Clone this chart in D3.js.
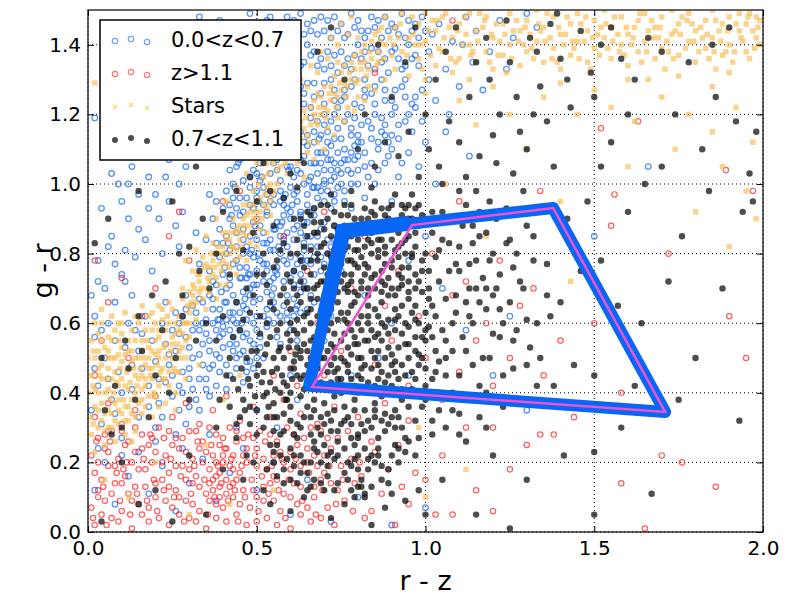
<!DOCTYPE html>
<html>
<head>
<meta charset="utf-8">
<script src="https://cdn.jsdelivr.net/npm/d3@7"></script>
<style>
  html, body { margin: 0; padding: 0; background: #fff; overflow: hidden; }
  svg { display: block; }
  text { font-family: "DejaVu Sans", sans-serif; fill: #000; }
</style>
</head>
<body>
<div id="chart"></div>
<script>
const xTicks = [0.0, 0.5, 1.0, 1.5, 2.0];
const yTicks = [0.0, 0.2, 0.4, 0.6, 0.8, 1.0, 1.2, 1.4];
const seriesNames = ['0.0<z<0.7', 'z>1.1', 'Stars', '0.7<z<1.1'];

// 0.0<z<0.7 (blue open circles)
const lowZ = [
  [.02,.62],[.05,.7],[.03,.78],[.08,.66],[.1,.74],[.07,.85],[.12,.9],[.04,.93],[.15,.97],[.18,1.02],[.09,1.0],[.2,1.08],[.13,1.05],[.22,1.12],[.16,1.15],[.25,1.18],[.19,1.22],[.27,1.0],[.24,.95],[.21,.9],[.17,.84],[.14,.79],[.11,.72],[.06,.6],[.01,.68],[.26,1.25],[.28,1.13],[.23,1.02],[.18,.93],[.15,.87],[.11,.81],[.08,.77],[.03,.72],[.29,1.05],[.26,.88],[.22,.8],[.19,.75],[.13,.68],[.06,.82],[.1,.95],[.16,1.1],[.2,.97],[.24,1.07],[.28,.92],[.3,1.2],[.02,1.19],[.07,1.03],[.12,1.0],[.27,.82],
  [.01,.35],[.03,.42],[.05,.5],[.02,.56],[.07,.38],[.09,.46],[.06,.29],[.11,.53],[.13,.41],[.14,.58],[.16,.47],[.18,.36],[.19,.55],[.21,.44],[.22,.6],[.24,.51],[.25,.39],[.27,.57],[.28,.46],[.3,.53],[.31,.41],[.32,.6],[.34,.48],[.33,.35],[.29,.31],[.26,.28],[.2,.3],[.15,.33],[.1,.27],[.04,.31],[.08,.55],[.12,.6],[.17,.62],[.23,.66],[.26,.63],[.29,.68],[.31,.65],[.35,.57],[.34,.66],[.36,.52],[.02,.47],[.06,.44],[.1,.4],[.15,.52],[.2,.49],[.25,.45],[.3,.47],[.32,.38],[.27,.35],[.22,.33],[.18,.42],[.13,.48],[.08,.34],[.04,.58],[.16,.57],[.23,.54],[.28,.62],[.35,.44],[.37,.6],[.36,.68],
  [.38,.51],[.42,.54],[.44,.5],[.47,.57],[.51,.53],[.53,.59],[.4,.59],[.43,.61],[.46,.52],[.49,.6],[.52,.5],[.56,.56],[.59,.61],[.39,.56],[.45,.58],
  [.37,.64],[.41,.66],[.42,.63],[.46,.69],[.47,.64],[.51,.67],[.52,.62],[.55,.7],[.58,.65],[.61,.62],[.63,.69],[.38,.71],[.44,.66],[.49,.71],[.54,.65],[.58,.72],[.41,.7],[.35,.61],[.65,.64],[.47,.61],
  [.36,.75],[.39,.79],[.42,.73],[.43,.77],[.46,.8],[.48,.74],[.51,.78],[.52,.72],[.56,.76],[.57,.8],[.6,.73],[.62,.77],[.64,.81],[.67,.74],[.45,.73],[.54,.81],[.6,.79],[.37,.72],[.69,.79],[.33,.77],[.42,.81],[.5,.75],
  [.35,.84],[.39,.87],[.4,.83],[.44,.86],[.45,.91],[.48,.85],[.51,.88],[.53,.83],[.55,.87],[.58,.91],[.61,.84],[.62,.88],[.66,.85],[.67,.91],[.71,.84],[.47,.82],[.57,.85],[.42,.9],[.53,.91],[.64,.83],[.73,.88],[.37,.9],[.32,.86],
  [.38,.95],[.41,.98],[.44,.93],[.47,.96],[.49,.93],[.52,.99],[.54,.95],[.57,.98],[.59,.93],[.61,.97],[.64,1.0],[.67,.93],[.69,.98],[.72,.93],[.74,.99],[.48,.99],[.58,.96],[.63,.92],[.53,.97],[.36,.97],[.43,1.0],[.7,1.01],[.76,.95],
  [.42,1.04],[.45,1.07],[.48,1.02],[.51,1.06],[.53,1.1],[.56,1.04],[.58,1.08],[.61,1.02],[.63,1.07],[.65,1.11],[.68,1.03],[.71,1.07],[.73,1.02],[.75,1.06],[.78,1.09],[.4,1.09],[.47,1.11],[.57,1.01],[.62,1.09],[.67,1.06],[.72,1.11],[.8,1.04],
  [.5,1.13],[.53,1.17],[.56,1.12],[.59,1.16],[.62,1.2],[.65,1.14],[.68,1.18],[.71,1.12],[.74,1.16],[.77,1.2],[.8,1.14],[.83,1.18],[.86,1.12],[.88,1.17],[.46,1.15],[.6,1.19],[.7,1.2],[.79,1.11],[.9,1.2],[.44,1.19],
  [.45,1.23],[.48,1.27],[.51,1.22],[.54,1.26],[.57,1.3],[.6,1.24],[.63,1.28],[.66,1.22],[.69,1.26],[.72,1.3],[.75,1.24],[.78,1.28],[.81,1.22],[.84,1.26],[.87,1.3],[.9,1.24],[.93,1.28],[.96,1.23],[.4,1.26],[.42,1.3],[.65,1.29],[.82,1.3],[.99,1.27],
  [.38,1.33],[.41,1.37],[.44,1.32],[.47,1.36],[.5,1.4],[.53,1.34],[.56,1.38],[.59,1.32],[.62,1.36],[.65,1.4],[.68,1.34],[.71,1.38],[.74,1.32],[.77,1.36],[.8,1.4],[.83,1.34],[.86,1.38],[.89,1.32],[.92,1.36],[.95,1.4],[.98,1.34],[1.01,1.38],[.35,1.39],[.55,1.31],
  [.36,1.43],[.39,1.47],[.42,1.42],[.45,1.46],[.48,1.49],[.51,1.44],[.54,1.48],[.57,1.42],[.6,1.46],[.63,1.49],[.66,1.44],[.69,1.48],[.72,1.42],[.75,1.46],[.78,1.49],[.81,1.44],[.84,1.48],[.87,1.42],[.9,1.46],[.93,1.49],[.96,1.44],[.99,1.48],[1.02,1.43],[.33,1.48],[.3,1.45],
  [1.04,1.46],[1.08,1.41],[1.12,1.48],[1.06,1.33],[1.15,1.44],[1.19,1.38],[1.1,1.28],[1.22,1.47],[1.26,1.42],[1.03,1.24],[1.14,1.35],[1.3,1.49],[1.17,1.27],[1.07,1.2],[1.24,1.33],[1.33,1.45],[1.01,1.3],[1.11,1.4],
  [1.0,1.12],[.98,1.05],[1.03,1.0],[.95,1.09],[1.13,1.08],[1.06,1.15],[.92,1.02],[.88,1.06],[.85,1.0],[.82,.96],[.9,.95],[.78,.93],
  [.75,.75],[.82,.68],[.9,.6],[.95,.78],[1.05,.7],[1.12,.58],[.86,.5],[1.2,.45],[.7,.55],[.78,.45],[1.25,.62],[1.3,.35],[1.5,.85],[1.66,1.05],[.95,.45],[1.0,.85],[.72,.62],[.68,.48],[.62,.55],[.6,.45],
  [.02,.12],[.05,.2],[.08,.08],[.12,.16],[.15,.23],[.18,.11],[.22,.19],[.26,.06],[.3,.14],[.34,.21],[.38,.09],[.42,.17],[.46,.24],[.5,.12],[.55,.2],[.6,.05],[.65,.15],[.72,.03],[.8,.1],[.9,.02],[1.0,.07],[.03,.24],[.1,.22],[.2,.26],[.28,.24],[.36,.28],[.44,.3],[.5,.35],[.56,.3],[.62,.38],
  [.27,.42],[.3,.36],[.33,.44],[.36,.39],[.39,.46],[.41,.41],[.44,.47],[.46,.43],[.48,.49],[.31,.5],[.34,.54],[.37,.48],[.4,.53],[.43,.56],[.45,.51],[.47,.46],[.5,.5],[.29,.56],[.33,.58],[.38,.42],[.42,.45],[.49,.54],[.36,.55],[.26,.52],[.24,.48],
  [.4,.57],[.43,.52],[.48,.55],[.5,.58],[.55,.6],[.57,.54],[.6,.58],[.39,.64],[.43,.68],[.45,.63],[.49,.66],[.53,.69],[.56,.63],[.59,.68],[.62,.65],[.64,.72],[.66,.68],[.4,.74],[.44,.78],[.47,.76],[.49,.79],[.53,.75],[.55,.73],[.58,.78],[.61,.75],[.63,.79],[.66,.77],[.68,.82],[.7,.77],[.38,.83],[.41,.85],[.43,.88],[.46,.84],[.49,.89],[.52,.86],[.54,.84],[.56,.89],[.59,.86],[.6,.9],[.63,.86],[.65,.89],[.69,.87],[.72,.82],[.4,.93],[.43,.96],[.46,.92],[.5,.96],[.52,.94],[.55,.97],[.58,.94],[.6,.99],[.62,.95],[.65,.94],[.68,.96],[.71,.98],[.73,.95],[.75,1.0],[.44,1.05],[.47,1.08],[.5,1.03],[.52,1.08],[.55,1.06],[.57,1.1],[.6,1.05],[.62,1.04],[.64,1.08],[.66,1.02],[.69,1.06],[.72,1.04],[.74,1.09],[.77,1.04],[.79,1.07],
  [.52,1.15],[.55,1.19],[.58,1.13],[.61,1.17],[.64,1.12],[.67,1.15],[.7,1.17],[.73,1.13],[.76,1.18],[.78,1.14],[.81,1.17],[.84,1.13],[.87,1.15],[.89,1.12],[.53,1.24],[.56,1.22],[.59,1.27],[.62,1.23],[.64,1.26],[.67,1.29],[.7,1.23],[.73,1.27],[.76,1.25],[.79,1.23],[.82,1.27],[.85,1.23],[.88,1.27],[.91,1.22],[.94,1.25],[.52,1.36],[.55,1.34],[.58,1.38],[.61,1.33],[.64,1.35],[.67,1.38],[.7,1.33],[.73,1.37],[.76,1.34],[.79,1.37],[.82,1.38],[.85,1.33],[.88,1.36],[.91,1.39],[.94,1.34],[.97,1.37],[.5,1.45],[.53,1.47],[.56,1.44],[.59,1.48],[.62,1.43],[.65,1.46],[.68,1.43],[.71,1.47],[.74,1.44],[.77,1.43],[.8,1.47],[.83,1.44],[.86,1.47],[.89,1.44],[.92,1.43],[.95,1.47],[.98,1.42],[.43,1.4],[.46,1.43],[.4,1.44],[.48,1.33],[.45,1.28],[.47,1.21],
  [.21,.37],[.23,.43],[.25,.58],[.28,.4],[.3,.44],[.31,.58],[.33,.51],[.35,.41],[.36,.47],[.38,.58],[.39,.5],[.41,.48],[.42,.58],[.44,.54],[.46,.56],[.47,.49],[.49,.47],[.51,.56],[.32,.63],[.34,.6],[.37,.67],[.39,.61],[.27,.6],[.29,.64],[.33,.67],
  [.41,.61],[.44,.6],[.46,.65],[.48,.68],[.5,.62],[.53,.64],[.55,.66],[.57,.62],[.59,.63],[.61,.67],[.63,.63],[.65,.7],[.67,.66],[.42,.71],[.45,.76],[.47,.73],[.5,.71],[.52,.77],[.54,.72],[.56,.74],[.59,.77],[.61,.71],[.63,.74],[.65,.78],[.67,.79],[.69,.75],[.71,.8],[.41,.8],[.44,.82],[.46,.87],[.48,.8],[.5,.84],[.52,.83],[.55,.81],[.57,.88],[.59,.82],[.61,.87],[.64,.89],[.66,.82],[.68,.85],[.7,.89],[.73,.84],[.75,.87],[.42,.94],[.45,.96],[.48,.94],[.5,.98],[.53,.92],[.55,.94],[.57,.95],[.6,.92],[.62,.98],[.65,.97],[.67,.99],[.7,.95],[.73,.97],[.76,.98],[.78,1.0],[.46,1.01],[.49,1.04],[.51,1.01],[.54,1.03],[.56,1.07],[.59,1.05],[.61,1.09],[.63,1.03],[.66,1.06],[.68,1.09],[.7,1.04],[.72,1.07],[.75,1.03],[.77,1.07],[.8,1.08],[.82,1.05],
  [.54,1.13],[.57,1.16],[.6,1.12],[.63,1.15],[.66,1.19],[.69,1.14],[.72,1.18],[.75,1.13],[.78,1.16],[.81,1.12],[.84,1.16],[.87,1.19],[.9,1.14],[.92,1.17],[.55,1.28],[.58,1.24],[.61,1.28],[.64,1.23],[.67,1.25],[.7,1.29],[.73,1.24],[.76,1.27],[.79,1.3],[.82,1.25],[.85,1.28],[.88,1.24],[.91,1.27],[.94,1.3],[.97,1.25],[.54,1.39],[.57,1.35],[.6,1.39],[.63,1.34],[.66,1.37],[.69,1.36],[.72,1.34],[.75,1.38],[.78,1.33],[.81,1.36],[.84,1.39],[.87,1.35],[.9,1.38],[.93,1.33],[.96,1.36],[.52,1.42],[.55,1.46],[.58,1.44],[.61,1.47],[.64,1.43],[.67,1.47],[.7,1.44],[.73,1.48],[.76,1.42],[.79,1.45],[.82,1.42],[.85,1.45],[.88,1.48],[.91,1.45],[.94,1.42],[.97,1.46],[1.0,1.44],
  [.385,.61],[.395,.69],[.405,.76],[.415,.83],[.425,.91],[.435,.99],[.445,1.06],[.455,.6],[.465,.67],[.475,.74],[.485,.81],[.495,.88],[.505,.95],[.515,1.02],[.525,1.09],[.535,.61],[.545,.68],[.555,.75],[.565,.82],[.575,.89],[.585,.97],[.595,1.04],[.605,1.11],[.615,.64],[.625,.71],[.635,.78],[.645,.85],[.655,.92],[.665,.99],[.675,1.06],[.685,1.13],[.405,.66],[.455,.73],[.505,.8],[.555,.87],[.605,.94],[.655,1.01],[.705,1.09],[.43,.63],[.48,.7],[.53,.77],[.58,.84],[.63,.91],[.68,.99],[.73,1.06],
  [.7,1.0],[.72,1.01],[.74,1.04],[.76,1.07],[.78,1.03],[.8,1.12],[.82,1.09],[.84,1.06],[.86,1.1],[.88,1.14],[.9,1.1],[.92,1.13],[.94,1.18],[.96,1.15],[.8,1.0],[.83,1.02],[.86,1.04],[.89,1.08],[.93,1.06],[.95,1.2],[.97,1.22],[.99,1.18],[.85,1.2],[.79,1.19],[.73,1.2],[.76,1.1],[.74,1.22],[.71,1.15],[.67,1.12],[.69,1.09]
];

// z>1.1 (red open circles)
const highZ = [
  [.02,.02],[.07,.04],[.13,.01],[.18,.03],[.24,.02],[.3,.04],[.35,.01],[.41,.03],[.47,.02],[.53,.04],[.6,.01],[.66,.03],[.73,.02],[.82,.04],[.91,.02],
  [.01,.07],[.05,.09],[.1,.06],[.15,.08],[.2,.1],[.25,.07],[.29,.09],[.33,.06],[.38,.08],[.43,.1],[.48,.07],[.52,.09],[.57,.06],[.62,.08],[.67,.1],[.71,.07],[.76,.09],[.84,.06],[.95,.08],[1.03,.05],
  [.03,.12],[.08,.14],[.12,.11],[.17,.13],[.22,.15],[.26,.12],[.31,.14],[.35,.11],[.39,.13],[.44,.15],[.49,.12],[.54,.14],[.58,.11],[.63,.13],[.69,.15],[.74,.12],[.79,.14],[.87,.11],[.93,.13],[1.0,.15],[.37,.12],[.41,.11],
  [.02,.17],[.06,.19],[.11,.16],[.15,.18],[.19,.2],[.24,.17],[.28,.19],[.32,.16],[.36,.18],[.4,.2],[.45,.17],[.5,.19],[.55,.16],[.6,.18],[.65,.2],[.7,.17],[.75,.19],[.81,.16],[.89,.18],[.97,.17],[.38,.16],[.42,.19],
  [.01,.22],[.05,.24],[.09,.21],[.14,.23],[.18,.25],[.23,.22],[.27,.24],[.31,.21],[.35,.23],[.39,.25],[.43,.22],[.47,.24],[.52,.21],[.57,.23],[.62,.25],[.67,.22],[.72,.24],[.78,.21],[.85,.23],[.92,.25],[.4,.22],[.44,.26],
  [.03,.27],[.07,.29],[.12,.26],[.16,.28],[.21,.3],[.26,.27],[.3,.29],[.34,.26],[.38,.28],[.42,.3],[.46,.27],[.51,.29],[.56,.26],[.61,.28],[.66,.3],[.71,.27],[.77,.29],[.84,.26],
  [.02,.33],[.06,.37],[.1,.31],[.14,.35],[.2,.39],[.25,.33],[.29,.37],[.33,.31],[.37,.35],[.41,.39],[.45,.32],[.49,.36],[.54,.33],[.58,.38],[.63,.34],[.68,.31],[.73,.36],[.8,.33],[.88,.37],[.95,.32],
  [.62,.42],[.7,.45],[.75,.52],[.68,.6],[.8,.4],[.85,.48],[.9,.55],[.95,.42],[1.0,.5],[1.05,.38],[1.1,.46],[1.15,.55],[1.2,.42],[1.25,.5],[1.3,.38],[1.35,.45],[1.4,.55],[.78,.7],[.88,.65],[.98,.62],[1.08,.68],[1.18,.6],[1.28,.65],[.72,.8],[.82,.85],[.92,.75],[1.02,.8],[1.12,.72],[1.22,.78],[1.32,.7],[1.0,.9],[1.1,.95],[.6,.52],[.55,.45],[1.2,.3],[1.3,.25],[1.12,.3],[1.05,.22],[1.15,.12],[1.25,.18],[1.38,.28],[1.08,.05],[1.2,.06],[.65,.75],[.58,.85],[.5,.9],[.45,.98],[.4,.95],[.7,.92],
  [.02,.45],[.04,.55],[.06,.66],[.1,.73],[.12,.5],[.16,.62],[.2,.7],[.24,.85],[.27,.92],[.3,.78],[.02,.78],
  [1.58,.14],[1.76,.2],[1.86,.13],[1.65,.01],[1.34,.28],[1.55,.88],[1.58,.4],[1.72,.8],[1.9,.62],[1.95,.5],[1.63,1.18],[1.89,1.04],[1.97,.98],[1.56,.97],[1.34,.98],[1.5,.6],[1.44,.33],[1.7,.22],[1.52,1.16],[.85,1.32],[.55,1.25],[.6,1.33],[1.08,1.47],
  [.04,.05],[.09,.03],[.16,.05],[.21,.04],[.27,.05],[.32,.03],[.38,.04],[.44,.05],[.5,.03],[.56,.02],[.63,.05],[.69,.04],[.03,.1],[.07,.11],[.13,.09],[.18,.07],[.23,.09],[.27,.1],[.31,.08],[.36,.09],[.4,.07],[.45,.08],[.5,.1],[.55,.09],[.6,.1],[.65,.07],[.04,.15],[.1,.14],[.14,.13],[.2,.14],[.24,.13],[.29,.15],[.33,.13],[.37,.15],[.42,.13],[.46,.12],[.52,.13],[.56,.15],[.61,.14],[.67,.13],[.72,.14],[.03,.2],[.08,.19],[.13,.2],[.17,.18],[.22,.2],[.26,.19],[.3,.18],[.34,.2],[.38,.2],[.43,.18],[.47,.2],[.53,.18],[.58,.2],[.63,.19],[.68,.19],[.06,.23],[.11,.25],[.16,.24],[.2,.23],[.25,.25],[.29,.23],[.33,.24],[.37,.22],[.41,.24],[.46,.22],[.5,.24],[.55,.22],[.6,.23],[.65,.24],[.7,.22],[.05,.28],[.1,.29],[.14,.3],[.19,.27],[.24,.29],[.28,.27],[.32,.29],[.36,.3],[.4,.27],[.44,.29],[.49,.27],[.54,.28],[.59,.3],[.64,.27],[.69,.29],[.74,.27],[.36,.14],[.39,.17],[.41,.15],[.43,.14],[.39,.1],
  [.015,.04],[.045,.13],[.055,.02],[.085,.17],[.095,.09],[.115,.2],[.125,.05],[.145,.11],[.165,.21],[.175,.09],[.195,.15],[.205,.06],[.225,.12],[.245,.21],[.255,.1],[.275,.16],[.285,.03],[.305,.11],[.315,.19],[.325,.26],[.345,.15],[.355,.05],[.365,.25],[.375,.1],[.385,.19],[.395,.14],[.405,.24],[.415,.09],[.425,.21],[.435,.12],[.445,.03],[.455,.19],[.465,.1],[.475,.28],[.485,.15],[.495,.22],[.505,.06],[.515,.16],[.525,.26],[.535,.11],[.545,.19],[.565,.12],[.575,.21],[.585,.04],[.595,.15],[.615,.21],[.635,.09],[.655,.17],[.675,.05],[.695,.12],[.715,.19],[.735,.08],[.755,.15],[.785,.06],[.805,.2],[.025,.26],[.065,.26],[.105,.18],[.185,.28],[.225,.27]
];

// Stars (orange)
const stars = [
  [.01,.28],[.02,.36],[.01,.45],[.03,.52],[.02,.6],[.04,.32],[.05,.4],[.04,.48],[.06,.56],[.05,.25],[.07,.3],[.08,.37],[.07,.44],[.09,.51],[.08,.58],[.1,.34],[.11,.42],[.1,.49],[.12,.55],[.11,.28],[.13,.38],[.14,.45],[.13,.52],[.15,.6],[.14,.33],[.16,.41],[.17,.48],[.16,.55],[.18,.62],[.17,.36],[.19,.44],[.2,.51],[.19,.58],[.21,.65],[.2,.39],[.22,.47],[.23,.54],[.22,.61],[.24,.42],[.25,.5],[.26,.57],[.25,.64],[.27,.46],[.28,.53],[.29,.6],[.28,.67],[.3,.56],[.3,.63],[.03,.4],[.06,.47],[.09,.42],[.12,.47],[.15,.5],[.18,.53],[.21,.56],[.24,.6],[.27,.62],[.03,.57],[.06,.35],[.09,.31],[.12,.36],[.15,.44],[.18,.47],[.21,.5],[.02,.23],[.08,.26],[.14,.29],[.19,.33],[.23,.37],[.26,.4],[.04,.64],[.1,.6],[.16,.65],[.0,.5],[.0,.4],[.11,.63],[.07,.62],[.13,.26],[.26,.35],[.29,.44],
  [.3,.69],[.31,.75],[.32,.66],[.33,.72],[.34,.79],[.35,.7],[.36,.76],[.37,.83],[.38,.73],[.39,.8],[.4,.86],[.41,.77],[.42,.84],[.43,.9],[.44,.81],[.45,.88],[.46,.94],[.47,.85],[.48,.92],[.49,.98],[.5,.89],[.51,.96],[.52,1.02],[.53,.93],[.54,1.0],[.55,1.06],[.32,.61],[.35,.64],[.38,.67],[.41,.71],[.44,.74],[.47,.78],[.5,.82],[.53,.86],[.29,.78],[.32,.81],[.35,.85],[.38,.9],[.41,.95],[.44,.99],[.47,1.03],[.5,1.06],[.33,.69],[.36,.72],[.39,.77],[.42,.8],[.45,.84],[.48,.88],[.51,.92],[.54,.95],[.31,.71],[.43,.86],[.46,.9],[.49,.94],[.37,.78],[.4,.82],
  [.53,1.06],[.55,1.12],[.56,1.0],[.57,1.08],[.58,1.15],[.59,1.03],[.6,1.1],[.61,1.18],[.62,1.06],[.63,1.13],[.64,1.21],[.65,1.09],[.66,1.17],[.67,1.24],[.68,1.12],[.69,1.2],[.7,1.28],[.71,1.16],[.72,1.24],[.73,1.31],[.74,1.19],[.75,1.27],[.76,1.34],[.77,1.22],[.78,1.3],[.79,1.37],[.8,1.25],[.81,1.33],[.82,1.4],[.83,1.28],[.84,1.36],[.85,1.43],[.56,1.16],[.59,1.2],[.62,1.24],[.65,1.28],[.68,1.32],[.71,1.36],[.74,1.4],[.77,1.43],[.58,1.12],[.61,1.14],[.64,1.16],[.67,1.2],[.7,1.22],[.73,1.26],[.76,1.29],[.79,1.33],[.82,1.35],[.6,1.25],[.63,1.3],[.66,1.34],[.69,1.38],[.72,1.42],[.75,1.46],[.78,1.48],[.64,1.02],[.67,1.07],[.7,1.1],[.73,1.14],[.76,1.18],[.79,1.21],[.82,1.24],[.85,1.27],
  [.86,1.35],[.86,1.44],[.88,1.3],[.88,1.4],[.88,1.48],[.91,1.33],[.91,1.45],[.93,1.38],[.93,1.49],[.95,1.31],[.95,1.42],[.98,1.36],[.98,1.46],[1.0,1.3],[1.0,1.41],[1.0,1.49],[1.03,1.34],[1.03,1.44],[1.05,1.38],[1.05,1.48],[1.08,1.32],[1.08,1.42],[1.1,1.36],[1.1,1.46],[1.13,1.3],[1.13,1.4],[1.13,1.49],[1.15,1.35],[1.15,1.44],[1.18,1.38],[1.18,1.48],[1.2,1.33],[1.2,1.42],[1.23,1.37],[1.23,1.46],[1.25,1.4],[1.25,1.49],[1.28,1.34],[1.28,1.44],[1.3,1.38],[1.3,1.47],[1.33,1.41],[1.33,1.5],[1.35,1.35],[1.35,1.45],[1.38,1.39],[1.38,1.48],[1.4,1.33],[1.4,1.43],[1.43,1.37],[1.43,1.46],[1.45,1.41],[1.45,1.49],[1.48,1.35],[1.48,1.44],[1.5,1.39],[1.5,1.47],[1.53,1.42],[1.53,1.5],[1.55,1.36],[1.55,1.45],[1.58,1.4],[1.58,1.48],[1.6,1.34],[1.6,1.43],[1.63,1.38],[1.63,1.47],[1.65,1.41],[1.65,1.49],[1.68,1.36],[1.68,1.45],[1.7,1.39],[1.7,1.48],[1.73,1.43],[1.73,1.5],[1.75,1.37],[1.75,1.46],[1.78,1.41],[1.78,1.49],[1.8,1.35],[1.8,1.44],[1.83,1.39],[1.83,1.47],[1.85,1.42],[1.85,1.5],[1.88,1.37],[1.88,1.46],[1.9,1.4],[1.9,1.48],[1.93,1.44],[1.93,1.49],[1.95,1.38],[1.95,1.46],[1.98,1.42],[1.98,1.48],[1.99,1.4],[1.99,1.47],
  [1.0,1.26],[1.2,1.28],[1.4,1.29],[1.6,1.3],[1.75,1.31],[1.9,1.32],[1.1,1.24],[1.5,1.27],[1.85,1.28],
  [1.55,1.22],[1.62,1.18],[1.7,1.25],[1.78,1.2],[1.85,1.15],[1.92,1.22],[1.97,1.12],[1.88,1.05],[1.95,.98],[1.8,.92],[1.9,.82],[1.74,1.1],[1.66,1.3],[1.45,1.2],[1.35,1.25],[1.25,1.2],[1.3,1.1],[1.15,1.17],[1.6,1.05],[1.98,.9],[1.43,.72],[1.18,.85],[1.06,1.0],[1.4,.95],
  [.05,.15],[.12,.1],[.2,.2],[.3,.05],[.42,.08],[.55,.12],[.35,.25],[1.0,.1],[.98,.3],[1.12,.18],[.4,.38],[.45,.45],[.33,.48],[.02,1.29],
  [.01,.33],[.02,.41],[.03,.47],[.01,.55],[.04,.37],[.04,.44],[.05,.53],[.05,.29],[.06,.41],[.07,.5],[.07,.34],[.08,.46],[.09,.55],[.09,.38],[.1,.44],[.11,.51],[.11,.36],[.12,.41],[.13,.49],[.12,.32],[.14,.4],[.14,.5],[.15,.37],[.16,.45],[.16,.52],[.17,.42],[.18,.5],[.18,.39],[.19,.47],[.2,.55],[.21,.42],[.21,.52],[.22,.44],[.23,.5],[.23,.58],[.24,.46],[.25,.54],[.26,.46],[.26,.6],[.27,.52],[.28,.57],[.29,.5],[.3,.6],[.31,.65],[.06,.52],[.08,.32],[.1,.57],[.13,.58],[.17,.58],[.2,.6],[.22,.64],[.03,.3],[.02,.5],
  [.31,.68],[.33,.74],[.34,.67],[.35,.77],[.36,.69],[.37,.74],[.38,.8],[.39,.71],[.4,.78],[.41,.84],[.42,.76],[.43,.82],[.44,.87],[.45,.79],[.46,.86],[.47,.91],[.48,.83],[.49,.9],[.5,.95],[.51,.87],[.52,.94],[.53,.99],[.54,.91],[.55,.98],[.56,1.04],
  [.57,1.05],[.59,1.1],[.6,1.15],[.62,1.11],[.63,1.18],[.65,1.14],[.66,1.22],[.68,1.17],[.69,1.25],[.71,1.21],[.72,1.28],[.74,1.25],[.75,1.32],[.77,1.28],[.78,1.35],[.8,1.3],[.81,1.38],[.83,1.33],[.84,1.41],[.86,1.38],[.87,1.45],[.62,1.18],[.68,1.26],[.74,1.35],[.8,1.42],
  [.9,1.37],[.92,1.42],[.97,1.4],[.99,1.33],[1.02,1.47],[1.04,1.39],[1.07,1.45],[1.09,1.35],[1.12,1.43],[1.14,1.38],[1.17,1.45],[1.19,1.35],[1.22,1.41],[1.24,1.32],[1.27,1.47],[1.29,1.4],[1.32,1.36],[1.34,1.44],[1.37,1.42],[1.39,1.35],[1.42,1.48],[1.44,1.39],[1.47,1.41],[1.49,1.33],[1.52,1.45],[1.54,1.39],[1.57,1.43],[1.59,1.37],[1.62,1.45],[1.64,1.35],[1.67,1.47],[1.69,1.42],[1.72,1.38],[1.74,1.44],[1.77,1.39],[1.79,1.46],[1.82,1.42],[1.84,1.36],[1.87,1.44],[1.89,1.38],[1.92,1.46],[1.94,1.41],[1.97,1.44],[1.96,1.36],[1.91,1.35],[1.86,1.33],[1.81,1.38],[1.71,1.33],[1.61,1.4],[1.51,1.43],[1.41,1.4],[1.31,1.43],[1.21,1.46],[1.11,1.4],[1.01,1.44],[.96,1.48],[1.06,1.49],[1.16,1.49],[1.26,1.44],[1.36,1.49],[1.46,1.46],[1.56,1.48],[1.66,1.44],[1.76,1.48],[1.86,1.47],[1.96,1.49],
  [.015,.31],[.015,.42],[.015,.52],[.03,.35],[.035,.45],[.04,.55],[.05,.34],[.055,.44],[.06,.5],[.065,.38],[.07,.55],[.075,.4],[.08,.5],[.085,.43],[.09,.35],[.095,.47],[.1,.53],[.105,.38],[.115,.46],[.12,.52],[.125,.43],[.13,.34],[.135,.47],[.14,.55],[.145,.42],[.155,.47],[.16,.38],[.165,.5],[.17,.44],[.175,.55],[.185,.45],[.19,.52],[.195,.4],[.205,.48],[.21,.58],[.215,.46],[.225,.53],[.23,.44],[.235,.62],[.245,.52],[.25,.56],[.255,.47],[.265,.54],[.27,.58],[.275,.5],[.285,.6],[.29,.55],[.295,.65],[.06,.3],[.11,.32],[.16,.34],[.21,.36],[.04,.6],[.09,.6],[.14,.62],[.19,.63],[.24,.66],[.28,.7],
  [.305,.66],[.315,.7],[.325,.74],[.335,.7],[.345,.76],[.355,.73],[.365,.8],[.375,.76],[.385,.82],[.395,.75],[.405,.8],[.415,.86],[.425,.82],[.435,.78],[.445,.86],[.455,.82],[.465,.88],[.475,.94],[.485,.86],[.495,.92],[.505,1.0],[.515,.9],[.525,.97],[.535,1.03],[.545,.97],
  [.565,1.1],[.585,1.06],[.605,1.13],[.625,1.15],[.645,1.19],[.655,1.12],[.675,1.18],[.685,1.22],[.705,1.19],[.715,1.26],[.735,1.22],[.745,1.29],[.765,1.25],[.775,1.32],[.795,1.29],[.805,1.35],[.825,1.31],[.835,1.38],[.855,1.34],[.865,1.41],[.875,1.36],[.895,1.42],
  [.905,1.4],[.925,1.46],[.945,1.37],[.965,1.43],[.985,1.4],[1.015,1.37],[1.035,1.47],[1.055,1.42],[1.075,1.36],[1.095,1.44],[1.115,1.48],[1.135,1.37],[1.155,1.41],[1.175,1.47],[1.195,1.43],[1.215,1.37],[1.235,1.43],[1.255,1.36],[1.275,1.41],[1.295,1.45],[1.315,1.39],[1.335,1.46],[1.355,1.41],[1.375,1.36],[1.395,1.45],[1.415,1.43],[1.435,1.41],[1.455,1.36],[1.475,1.48],[1.495,1.42],[1.515,1.37],[1.535,1.46],[1.555,1.41],[1.575,1.38],[1.595,1.45],[1.615,1.42],[1.635,1.49],[1.655,1.38],[1.675,1.42],[1.695,1.45],[1.715,1.41],[1.735,1.36],[1.755,1.43],[1.775,1.47],[1.795,1.41],[1.815,1.45],[1.835,1.43],[1.855,1.38],[1.875,1.41],[1.895,1.44],[1.915,1.38],[1.935,1.42],[1.955,1.48],[1.975,1.39],[1.985,1.45]
];

// 0.7<z<1.1 (black filled)
const midZ = [
  [.62,.45],[.65,.52],[.68,.41],[.71,.58],[.74,.47],[.77,.63],[.8,.5],[.83,.7],[.86,.44],[.89,.61],[.92,.53],[.95,.67],[.98,.48],[1.01,.59],[1.04,.72],[.63,.66],[.66,.74],[.69,.82],[.72,.69],[.75,.77],[.78,.85],[.81,.72],[.84,.8],[.87,.88],[.9,.76],[.93,.83],[.96,.9],[.99,.78],[1.02,.86],[.64,.88],[.67,.93],[.7,.87],[.73,.92],[.76,.94],[.79,.9],[.82,.93],[.85,.95],[.88,.91],[.91,.97],[.94,.93],[.61,.58],[.64,.62],[.67,.56],[.7,.64],[.73,.53],[.76,.57],[.79,.66],[.82,.55],[.85,.64],[.88,.5],[.91,.58],[.94,.45],[.97,.56],[1.0,.42],[1.03,.52],[.66,.47],[.69,.5],[.72,.43],[.75,.4],[.78,.44],[.81,.41],[.84,.47],[.87,.39],[.9,.42],[.93,.38],[.96,.41],[.99,.36],[.63,.78],[.66,.81],[.69,.72],[.72,.76],[.75,.83],[.78,.74],[.81,.79],[.84,.86],[.87,.75],[.9,.84],[.93,.71],[.96,.79],[.99,.69],[1.02,.65],[.68,.67],[.71,.7],[.74,.61],[.77,.69],[.8,.6],[.83,.65],[.86,.57],[.89,.68],[.92,.62],[.95,.72],[.98,.6],[1.01,.67],[.65,.7],[.7,.76],[.74,.79],[.79,.81],[.83,.76],[.88,.82],[.92,.79],[.97,.86],[.62,.84],[.67,.89],[.71,.8],[.76,.88],[.8,.84],[.85,.91],[.89,.87],[.94,.88],[.98,.94],[.63,.5],[.68,.55],[.73,.5],[.77,.53],[.82,.48],[.86,.52],[.91,.46],[.95,.5],[1.0,.55],[.64,.58],[.69,.61],[.74,.66],[.78,.58],[.83,.6],[.87,.66],[.92,.7],[.96,.63],[1.01,.75],[.66,.43],[.71,.46],[.76,.49],[.8,.45],[.85,.42],[.89,.45],[.94,.54],[.98,.51],[1.03,.46],[.61,.7],[.65,.63],[.7,.68],[.75,.72],[.79,.77],[.84,.73],[.88,.71],[.93,.76],[.97,.74],[1.04,.81],[.72,.97],[.78,.98],[.84,.99],[.9,.94],[.96,.97],[1.02,.92],
  [.5,.35],[.53,.4],[.56,.33],[.59,.38],[.62,.31],[.65,.36],[.68,.3],[.71,.34],[.74,.29],[.77,.33],[.8,.28],[.83,.32],[.86,.27],[.89,.31],[.52,.46],[.55,.5],[.58,.43],[.61,.49],[.64,.41],[.67,.38],[.7,.37],[.73,.39],[.76,.36],[.79,.38],[.82,.35],[.85,.37],[.88,.34],[.91,.35],[.54,.56],[.57,.53],[.6,.55],[.63,.39],[.66,.33],[.69,.43],[.72,.32],[.75,.44],[.78,.31],[.81,.44],[.84,.3],
  [.44,.27],[.47,.22],[.5,.28],[.53,.18],[.56,.25],[.59,.21],[.62,.27],[.65,.17],[.68,.23],[.71,.19],[.74,.26],[.77,.15],[.8,.22],[.83,.18],[.86,.24],[.89,.14],[.92,.2],[.95,.26],[.98,.12],[.46,.15],[.52,.12],[.58,.14],[.64,.1],[.7,.12],[.76,.08],[.82,.11],[.88,.07],[.94,.09],[1.0,.05],[.49,.2],[.55,.23],[.61,.19],[.67,.26],[.73,.21],[.79,.25],[.85,.2],[.91,.25],[.97,.22],[.6,.06],[.72,.04],[.84,.02],[.66,.13],[.78,.19],[.9,.11],[.54,.08],[.48,.31],[.58,.29],[.69,.28],[.8,.27],
  [.45,.58],[.48,.63],[.51,.57],[.54,.66],[.57,.6],[.6,.64],[.47,.7],[.5,.74],[.53,.71],[.56,.78],[.59,.74],[.46,.81],[.49,.86],[.52,.8],[.55,.88],[.58,.83],[.61,.9],[.5,.95],[.54,.98],[.58,.96],[.62,.99],[.44,.66],[.42,.74],[.4,.62],[.38,.8],[.36,.7],[.33,.75],[.3,.82],[.28,.68],[.34,.9],[.4,.92],[.44,.98],[.48,1.02],[.52,1.06],[.56,1.08],[.6,1.03],[.64,1.06],[.38,.55],[.35,.6],[.42,.5],
  [1.06,.45],[1.08,.6],[1.1,.75],[1.12,.52],[1.14,.88],[1.16,.66],[1.18,.4],[1.2,.8],[1.22,.56],[1.24,.93],[1.26,.47],[1.28,.72],[1.3,.61],[1.32,.85],[1.34,.5],[1.36,.77],[1.38,.42],[1.4,.66],[1.42,.9],[1.07,.83],[1.09,.68],[1.11,.38],[1.13,.62],[1.15,.78],[1.17,.5],[1.19,.95],[1.21,.7],[1.23,.36],[1.25,.84],[1.27,.58],[1.29,.98],[1.33,.42],[1.37,.62],[1.05,.92],[1.06,.55],[1.08,.35],[1.1,.98],[1.13,.7],[1.18,.86],[1.22,.64],[1.26,.76],[1.31,.53],[1.35,.92],[1.44,.48],[1.46,.75],[1.1,.28],[1.2,.22],[1.3,.15],[1.15,.05],[1.25,.01],[1.05,.15],[1.02,.32],[1.41,.22],
  [.98,1.02],[1.01,1.1],[1.04,1.05],[1.07,1.18],[1.1,1.12],[1.13,1.25],[1.16,1.08],[1.19,1.3],[1.22,1.2],[1.25,1.35],[1.28,1.15],[1.31,1.42],[1.34,1.28],[1.37,1.46],[1.4,1.36],[1.43,1.22],[1.46,1.44],[1.49,1.32],[1.52,1.4],[1.0,1.2],[1.03,1.3],[1.06,1.38],[1.09,1.45],[1.12,1.02],[1.15,1.35],[1.18,1.42],[1.21,1.06],[1.24,1.47],[1.27,1.25],[1.3,1.1],[1.33,1.38],[1.36,1.18],[1.39,1.49],[1.42,1.3],[.92,1.08],[.95,1.15],[.88,1.12],[.85,1.05],[.8,1.1],[.82,1.2],[.9,1.25],[.94,1.35],[.97,1.45],[.86,1.4],[.76,1.3],[.72,1.45],[.68,1.38],[1.05,1.0],[1.15,.98],[1.2,1.14],[1.26,1.03],[1.32,1.2],[1.38,1.05],
  [1.48,.95],[1.5,.45],[1.52,.78],[1.55,1.12],[1.58,.3],[1.6,.92],[1.62,1.3],[1.64,.6],[1.66,1.42],[1.67,.11],[1.7,1.05],[1.72,.72],[1.74,1.2],[1.76,.85],[1.78,1.35],[1.8,.5],[1.82,1.1],[1.84,.98],[1.86,1.25],[1.88,.7],[1.9,1.45],[1.92,1.18],[1.94,.92],[1.96,1.03],[1.98,1.15],[1.55,1.45],[1.6,1.2],[1.65,1.0],[1.7,1.38],[1.5,1.25],[1.57,.65],[1.5,.23],[1.5,.05],[1.62,.42],[1.75,.38],[1.93,.32],[1.52,1.05],[1.58,1.36],[1.85,1.4],[1.97,.95],
  [.05,.35],[.08,.42],[.1,.3],[.12,.47],[.14,.38],[.16,.52],[.18,.33],[.2,.45],[.22,.58],[.24,.4],[.26,.5],[.28,.62],[.3,.38],[.32,.55],[.04,.5],[.07,.28],[.11,.55],[.15,.62],[.19,.68],[.23,.72],[.27,.8],[.02,.83],[.06,.9],[.15,.98],[.25,.95],[.32,1.05],[.1,.2],[.2,.12],[.3,.22],[.38,.3],[.4,.18],[.35,.05],[.25,.03],[.15,.08],[.04,.03],
  [.6,.4],[.63,.44],[.65,.48],[.67,.45],[.7,.42],[.72,.48],[.74,.44],[.77,.46],[.79,.42],[.81,.47],[.83,.43],[.86,.48],[.88,.43],[.9,.48],[.92,.44],[.96,.46],[.62,.53],[.66,.55],[.69,.53],[.71,.52],[.75,.55],[.78,.51],[.8,.54],[.84,.52],[.87,.55],[.9,.51],[.93,.57],[.97,.52],[1.0,.58],[.62,.61],[.66,.6],[.69,.58],[.72,.6],[.75,.63],[.77,.6],[.81,.62],[.84,.58],[.86,.62],[.88,.59],[.91,.64],[.94,.6],[.97,.65],[1.0,.63],[.63,.72],[.67,.7],[.7,.72],[.73,.73],[.76,.7],[.78,.72],[.8,.68],[.82,.74],[.85,.7],[.87,.72],[.9,.7],[.92,.74],[.95,.76],[.98,.72],[.64,.76],[.68,.78],[.71,.74],[.73,.81],[.77,.78],[.8,.76],[.82,.82],[.86,.79],[.88,.77],[.91,.81],[.94,.8],[.97,.82],[1.0,.8],[.65,.85],[.68,.86],[.72,.85],[.74,.87],[.77,.82],[.8,.88],[.83,.84],[.86,.84],[.89,.9],[.92,.86],[.95,.85],[.98,.88],[.66,.91],[.69,.94],[.71,.9],[.75,.91],[.78,.94],[.81,.9],[.84,.92],[.87,.93],[.9,.89],[.93,.91],[.95,.94],[.99,.91],
  [.52,.3],[.55,.33],[.57,.28],[.6,.32],[.63,.3],[.66,.28],[.69,.33],[.72,.29],[.75,.31],[.78,.27],[.81,.31],[.85,.33],[.88,.29],[.9,.33],[.93,.3],[.54,.25],[.57,.22],[.6,.24],[.63,.22],[.66,.2],[.7,.25],[.72,.23],[.76,.24],[.79,.21],[.82,.24],[.84,.22],[.87,.19],[.9,.22],[.94,.23],[.56,.16],[.6,.15],[.63,.17],[.67,.15],[.71,.16],[.74,.14],[.78,.12],[.81,.15],[.84,.13],[.87,.15],[.8,.13],[.82,.1],
  [.46,.38],[.48,.42],[.5,.45],[.52,.39],[.54,.43],[.56,.47],[.58,.5],[.6,.47],[.47,.5],[.5,.52],[.53,.54],[.56,.58],[.59,.57],[.43,.44],[.45,.33],[.48,.36],[.55,.37],[.57,.4],[.6,.36],
  [.59,.42],[.61,.47],[.63,.52],[.64,.45],[.66,.5],[.68,.47],[.7,.5],[.72,.54],[.73,.46],[.75,.5],[.77,.48],[.79,.54],[.81,.5],[.83,.55],[.85,.5],[.87,.46],[.89,.53],[.91,.49],[.93,.48],[.95,.54],[.97,.44],[.99,.5],[.6,.6],[.62,.57],[.64,.54],[.66,.64],[.68,.62],[.7,.59],[.72,.64],[.73,.57],[.76,.61],[.78,.65],[.79,.56],[.81,.58],[.83,.62],[.85,.56],[.87,.6],[.89,.57],[.91,.61],[.93,.65],[.95,.59],[.97,.61],[.99,.56],[.61,.75],[.62,.68],[.64,.7],[.66,.67],[.68,.71],[.7,.66],[.72,.72],[.74,.69],[.76,.74],[.77,.71],[.79,.69],[.81,.7],[.83,.68],[.85,.74],[.87,.69],[.89,.73],[.91,.68],[.93,.73],[.95,.69],[.97,.7],[.99,.75],[.62,.8],[.64,.82],[.66,.78],[.68,.8],[.7,.83],[.72,.79],[.74,.83],[.76,.81],[.78,.78],[.8,.81],[.82,.77],[.84,.83],[.86,.81],[.88,.8],[.9,.78],[.92,.82],[.94,.84],[.96,.8],[.63,.9],[.65,.92],[.67,.86],[.69,.89],[.71,.94],[.73,.88],[.75,.86],[.77,.91],[.79,.87],[.81,.86],[.83,.9],[.85,.87],[.87,.84],[.89,.93],[.91,.88],[.93,.94],[.95,.9],[.97,.93],
  [.53,.33],[.55,.29],[.58,.34],[.61,.28],[.64,.33],[.67,.35],[.7,.31],[.73,.35],[.76,.32],[.79,.35],[.82,.29],[.85,.35],[.87,.32],[.91,.3],[.55,.2],[.58,.18],[.61,.22],[.64,.2],[.67,.24],[.69,.2],[.71,.22],[.74,.22],[.77,.2],[.8,.18],[.83,.21],[.86,.22],[.89,.18],[.92,.24],[.62,.14],[.65,.12],[.69,.14],[.73,.12],[.76,.17],[.79,.1],[.81,.13],
  [.445,.41],[.455,.47],[.465,.35],[.475,.44],[.485,.52],[.495,.39],[.505,.48],[.515,.43],[.525,.51],[.535,.36],[.545,.46],[.555,.41],[.565,.52],[.575,.45],[.585,.38],[.595,.53],[.605,.44],[.615,.51],[.51,.62],[.53,.6],[.55,.64],[.57,.68],[.59,.66],[.49,.68],[.52,.74],[.55,.76],[.58,.7],[.6,.72],[.57,.81],[.6,.8],[.46,.61],[.43,.56],[.41,.45],[.39,.38],[.42,.36],[.44,.31],
  [1.0,.47],[1.02,.56],[1.03,.62],[1.04,.49],[1.05,.58],[1.06,.67],[1.07,.75],[1.08,.52],[1.09,.63],[1.1,.82],[1.11,.56],[1.12,.66],[1.13,.77],[1.14,.6],[1.15,.7],[1.16,.85],[1.17,.73],[1.18,.64],[1.19,.78],[1.2,.68],[1.21,.9],[1.22,.74],[1.23,.6],[1.24,.83],[1.01,.7],[1.03,.79],[1.05,.84],[1.07,.9],[1.09,.77],[1.11,.88],[1.12,.94],[1.14,.83],[1.16,.92],[1.18,.7],[1.2,.57],[1.25,.66],[1.27,.8],[1.29,.7],[1.3,.88],[1.02,.44],[1.04,.4],[1.06,.5],[1.1,.45],[1.14,.48],[1.16,.42],[1.19,.5],[1.23,.45],[1.26,.55],[1.3,.48],[1.33,.6],[1.36,.68],[1.32,.78],
  [.93,.41],[.95,.36],[.97,.32],[1.0,.38],[1.02,.28],[1.04,.35],[1.06,.3],[1.08,.4],[1.1,.34],[1.13,.38],[1.16,.33],[.98,.27],[.92,.33],[.94,.27],[1.12,.26],[1.18,.3]
];

// selection polygons (r-z, g-r)
const selectBox = [[0.655, 0.42], [0.756, 0.865], [1.378, 0.931], [1.71, 0.345]];
const selectCorner = [[0.70, 0.62], [0.756, 0.865], [0.95, 0.887]];
const cutBox = [[0.664, 0.417], [0.96, 0.882], [1.378, 0.931], [1.71, 0.345]];

const width = 789;
const height = 608;
const margin = { top: 10, right: 26, bottom: 76, left: 88 };
const innerWidth = width - margin.left - margin.right;
const innerHeight = height - margin.top - margin.bottom;

const svg = d3.select('#chart')
  .append('svg')
  .attr('width', width)
  .attr('height', height);

const g = svg.append('g')
  .attr('transform', `translate(${margin.left},${margin.top})`);

const xScale = d3.scaleLinear().domain([0, 2]).range([0, innerWidth]);
const yScale = d3.scaleLinear().domain([0, 1.5]).range([innerHeight, 0]);

svg.append('defs').append('clipPath')
  .attr('id', 'plot-clip')
  .append('rect')
  .attr('width', innerWidth)
  .attr('height', innerHeight);

// dotted grid
g.selectAll('.gx')
  .data(xTicks)
  .enter()
  .append('line')
  .attr('x1', d => xScale(d)).attr('x2', d => xScale(d))
  .attr('y1', 0).attr('y2', innerHeight)
  .attr('stroke', '#000').attr('stroke-width', 1)
  .attr('stroke-dasharray', '1,3');

g.selectAll('.gy')
  .data(yTicks)
  .enter()
  .append('line')
  .attr('y1', d => yScale(d)).attr('y2', d => yScale(d))
  .attr('x1', 0).attr('x2', innerWidth)
  .attr('stroke', '#000').attr('stroke-width', 1)
  .attr('stroke-dasharray', '1,3');

const plot = g.append('g').attr('clip-path', 'url(#plot-clip)');

plot.append('g').selectAll('circle')
  .data(lowZ)
  .enter()
  .append('circle')
  .attr('cx', d => xScale(d[0]))
  .attr('cy', d => yScale(d[1]))
  .attr('r', 2.8)
  .attr('fill', 'none')
  .attr('stroke', '#1466f0')
  .attr('stroke-opacity', 0.7)
  .attr('stroke-width', 1.3);

plot.append('g').selectAll('circle')
  .data(highZ)
  .enter()
  .append('circle')
  .attr('cx', d => xScale(d[0]))
  .attr('cy', d => yScale(d[1]))
  .attr('r', 2.7)
  .attr('fill', 'none')
  .attr('stroke', '#ff1a1a')
  .attr('stroke-opacity', 0.7)
  .attr('stroke-width', 1.2);

plot.append('g').selectAll('rect')
  .data(stars)
  .enter()
  .append('rect')
  .attr('x', d => xScale(d[0]) - 2.7)
  .attr('y', d => yScale(d[1]) - 2.7)
  .attr('width', 5.4)
  .attr('height', 5.4)
  .attr('fill', '#f8bd52')
  .attr('fill-opacity', 0.65);

plot.append('g').selectAll('circle')
  .data(midZ)
  .enter()
  .append('circle')
  .attr('cx', d => xScale(d[0]))
  .attr('cy', d => yScale(d[1]))
  .attr('r', 3.2)
  .attr('fill', '#111')
  .attr('fill-opacity', 0.75);

// selection boxes
const line = d3.line().x(d => xScale(d[0])).y(d => yScale(d[1]));
const closed = d3.line().x(d => xScale(d[0])).y(d => yScale(d[1])).curve(d3.curveLinearClosed);

plot.append('path')
  .attr('d', closed(selectBox))
  .attr('fill', 'none')
  .attr('stroke', '#0866f4')
  .attr('stroke-width', 12)
  .attr('stroke-linejoin', 'round');

plot.append('path')
  .attr('d', line(selectCorner))
  .attr('fill', 'none')
  .attr('stroke', '#0866f4')
  .attr('stroke-width', 15)
  .attr('stroke-linejoin', 'miter');

plot.append('path')
  .attr('d', closed(cutBox))
  .attr('fill', 'none')
  .attr('stroke', '#f052d2')
  .attr('stroke-width', 2.5);

// frame + inward ticks
g.append('rect')
  .attr('width', innerWidth)
  .attr('height', innerHeight)
  .attr('fill', 'none')
  .attr('stroke', '#000')
  .attr('stroke-width', 1.2);

const fmt = d3.format('.1f');

g.append('g')
  .attr('transform', `translate(0,${innerHeight})`)
  .call(d3.axisBottom(xScale).tickValues(xTicks).tickFormat(fmt).tickSize(-6).tickPadding(9));
g.append('g')
  .call(d3.axisLeft(yScale).tickValues(yTicks).tickFormat(fmt).tickSize(-6).tickPadding(7));
g.append('g').attr('class', 'mirror')
  .call(d3.axisTop(xScale).tickValues(xTicks).tickFormat('').tickSize(-6));
g.append('g').attr('class', 'mirror')
  .attr('transform', `translate(${innerWidth},0)`)
  .call(d3.axisRight(yScale).tickValues(yTicks).tickFormat('').tickSize(-6));

g.selectAll('.mirror text').remove();
g.selectAll('.domain').remove();
g.selectAll('.tick line').attr('stroke', '#000').attr('stroke-width', 1);
g.selectAll('.tick text')
  .attr('font-family', '"DejaVu Sans", sans-serif')
  .attr('font-size', '20px')
  .attr('fill', '#000');

svg.append('text')
  .attr('x', margin.left + innerWidth / 2)
  .attr('y', 590)
  .attr('text-anchor', 'middle')
  .attr('font-size', '27px')
  .text('r - z');

svg.append('text')
  .attr('transform', `translate(52,${margin.top + innerHeight / 2}) rotate(-90)`)
  .attr('text-anchor', 'middle')
  .attr('font-size', '27px')
  .text('g - r');

// legend
const legend = svg.append('g').attr('transform', 'translate(100,20)');
legend.append('rect')
  .attr('width', 201)
  .attr('height', 140)
  .attr('fill', '#fff')
  .attr('stroke', '#000')
  .attr('stroke-width', 1.5);

const rowY = i => 20 + i * 33;
const markerX = [15, 31, 47];
const markerDy = [1, -1, 2];

seriesNames.forEach((name, i) => {
  const row = legend.append('g').attr('transform', `translate(0,${rowY(i)})`);
  markerX.forEach((mx, j) => {
    const my = markerDy[j];
    if (i === 0 || i === 1) {
      row.append('circle')
        .attr('cx', mx).attr('cy', my).attr('r', 2.7)
        .attr('fill', 'none')
        .attr('stroke', i === 0 ? '#1466f0' : '#ff1a1a')
        .attr('stroke-opacity', 0.6)
        .attr('stroke-width', 1.2);
    } else if (i === 2) {
      row.append('rect')
        .attr('x', mx - 2.2).attr('y', my - 2.2)
        .attr('width', 4.4).attr('height', 4.4)
        .attr('fill', '#f8bd52').attr('fill-opacity', 0.5);
    } else {
      row.append('circle')
        .attr('cx', mx).attr('cy', my).attr('r', 3)
        .attr('fill', '#111').attr('fill-opacity', 0.75);
    }
  });
  row.append('text')
    .attr('x', 71)
    .attr('y', 0)
    .attr('dy', '0.35em')
    .attr('font-size', '21px')
    .text(name);
});
</script>
</body>
</html>
